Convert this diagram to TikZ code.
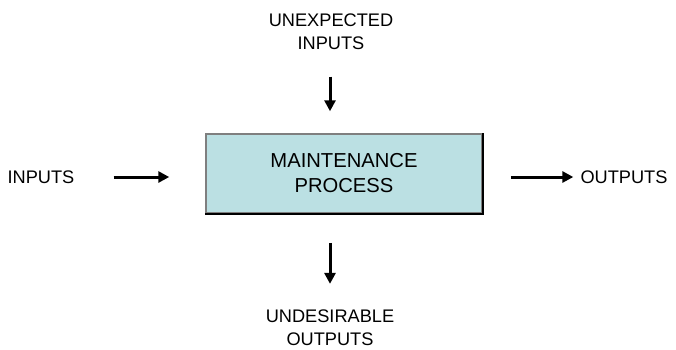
\documentclass[tikz,border=0pt]{standalone}
\usepackage{fontspec}
\setmainfont{Liberation Sans}
\usetikzlibrary{arrows.meta}
\definecolor{boxfill}{HTML}{BBE0E3}
\definecolor{boxedge}{HTML}{7F7F7F}
\begin{document}
\begin{tikzpicture}[x=1pt,y=-1pt,
  lbl/.style={font=\fontsize{18.2}{23}\selectfont, align=center, inner sep=0pt},
  arr/.style={line width=3pt, -{Triangle[length=11pt,width=11pt]}}]
\useasboundingbox (0,0) rectangle (676,349);
% central process box with a darker lower-right edge
\node[draw=boxedge, line width=1.5pt, fill=boxfill, minimum width=276pt, minimum height=79pt,
      inner sep=0pt, font=\fontsize{20.2}{25}\selectfont, align=center]
  (box) at (344,173.5) {MAINTENANCE\\PROCESS};
\draw[line width=1.5pt] (box.north east) -- (box.south east) -- (box.south west);
% labels around the box
\node[lbl] (inp) at (41,177) {INPUTS};
\node[lbl] (out) at (624,177) {OUTPUTS};
\node[lbl] (unexp) at (331,31.5) {UNEXPECTED\\INPUTS};
\node[lbl] (undes) at (330,328) {UNDESIRABLE\\OUTPUTS};
% flows
\draw[arr, shorten <=39pt, shorten >=36pt] (inp.east) -- (inp.east -| box.west);
\draw[arr, shorten <=28pt, shorten >=7pt] (inp.east -| box.east) -- (out.west);
\draw[arr, shorten <=27pt, shorten >=22pt] ([xshift=-1pt]unexp.south) -- ([xshift=-1pt]unexp.south |- box.north);
\draw[arr, shorten <=29pt, shorten >=26pt] (undes.north |- box.south) -- (undes.north);
\end{tikzpicture}
\end{document}
